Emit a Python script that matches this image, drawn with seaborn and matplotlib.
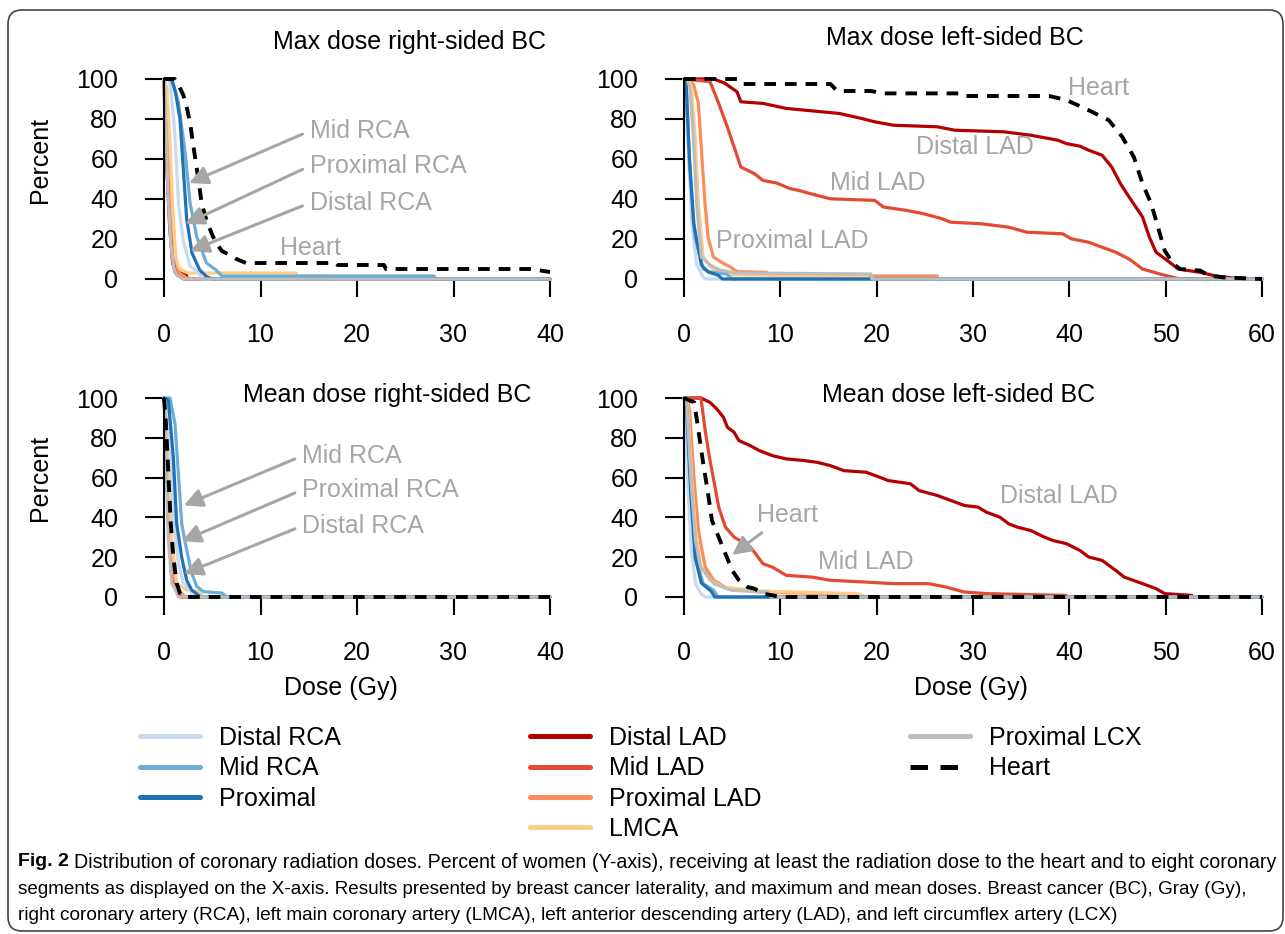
import matplotlib
matplotlib.use('Agg')
import matplotlib.pyplot as plt
from matplotlib.lines import Line2D
from matplotlib.patches import FancyBboxPatch
from matplotlib.transforms import IdentityTransform
import seaborn as sns

# --- data: (dose in Gy, percent of women) per segment ---
series_names = ['Distal LAD', 'Mid LAD', 'Proximal LAD', 'LMCA',
                'Distal RCA', 'Mid RCA', 'Proximal', 'Proximal LCX', 'Heart']

max_right = {
    'Distal LAD': ([0, 0.1, 0.3, 0.6, 0.9, 1.2, 2.3, 2.4, 40], [100, 80, 55, 25, 8, 3, 3, 0, 0]),
    'Mid LAD': ([0, 0.2, 0.4, 0.7, 1.0, 1.4, 2.0, 40], [100, 85, 55, 25, 8, 2, 0, 0]),
    'Proximal LAD': ([0, 0.3, 0.6, 0.9, 1.2, 1.6, 2.5, 40], [100, 88, 60, 30, 10, 3, 0, 0]),
    'LMCA': ([0, 0.3, 0.6, 0.9, 1.2, 1.5, 2.0, 2.5, 13.7, 13.8, 17, 17.1, 40],
             [100, 95, 70, 35, 12, 6, 4, 3, 3, 1.5, 1.5, 0, 0]),
    'Distal RCA': ([0, 0.6, 0.9, 1.14, 1.5, 2.0, 2.7, 3.4, 4.0, 40], [100, 99, 85, 71, 38, 19, 6.5, 4, 0, 0]),
    'Mid RCA': ([0, 0.6, 1.0, 1.5, 2.2, 2.7, 3.4, 4.4, 5.4, 6.0, 28, 28.1, 40],
                [100, 100, 97, 88, 63, 38, 21, 8, 4.5, 1.5, 1.5, 0, 0]),
    'Proximal': ([0, 0.8, 1.2, 1.66, 2.0, 2.35, 2.9, 3.7, 4.4, 5.0, 40],
                 [100, 100, 93, 80, 55, 30, 13, 4.5, 1.2, 0, 0]),
    'Proximal LCX': ([0, 0.2, 0.4, 0.7, 1.0, 1.3, 2.0, 40], [100, 75, 45, 18, 6, 2, 0, 0]),
    'Heart': ([0, 1.1, 1.5, 2.0, 2.4, 2.7, 3.0, 3.4, 3.7, 3.9, 4.3, 4.6, 5.0, 5.4, 6.0, 6.8, 7.5, 8.5,
               17.8, 18.0, 22.8, 23.0, 38, 40],
              [100, 100, 97, 92, 85, 78, 68, 55, 45, 38, 31, 27, 22, 18, 14, 12, 10, 8,
               8, 7, 7, 5, 5, 3.5]),
}

max_left = {
    'Distal LAD': ([0, 3.1, 4.2, 5.5, 5.9, 8.2, 10.6, 14.3, 16.1, 18.4, 19.8, 21.7, 26.3, 28.1, 33.2, 36,
                    38.8, 39.7, 41.1, 42, 43.4, 44.4, 45.3, 46.2, 47.6, 48.3, 49, 50.4, 51.3, 53.6, 55, 56.9, 60],
                   [100, 100, 98, 93.6, 88.6, 87.8, 85.3, 83.6, 82.8, 80.3, 78.6, 76.9, 76.1, 74.4, 73.6, 71.9,
                    69.4, 67.7, 66.4, 64.4, 61.9, 56, 47.7, 41, 31, 21, 13.4, 8.4, 5, 3.3, 1.7, 0.5, 0]),
    'Mid LAD': ([0, 2.7, 3.6, 4.5, 5.2, 5.9, 7.3, 8.2, 9.6, 11, 11.9, 13.8, 15.2, 19.8, 20.7, 23.1, 24.9,
                 26.8, 27.7, 30.9, 33.7, 35.6, 39.3, 40.2, 42, 43.4, 44.8, 46.2, 47.6, 49.4, 50.8, 51.5, 60],
                [100, 98.7, 87.8, 76, 66, 56, 52.7, 49.3, 48, 45.2, 44.3, 41.8, 40.1, 39.3, 36, 34.3, 32.6,
                 30.1, 28.4, 27.6, 25.9, 23.4, 22.6, 20.1, 18.4, 15.9, 13.4, 10, 5, 2.5, 0.8, 0, 0]),
    'Proximal LAD': ([0, 0.5, 1.0, 1.49, 1.83, 2.18, 2.5, 3.05, 4.0, 4.8, 5.5, 8.6, 8.7, 16, 16.1, 26.3, 26.4, 60],
                     [100, 100, 97, 88, 63, 38, 21, 11, 8, 6, 3.7, 3.3, 2, 2, 1.5, 1.5, 0, 0]),
    'LMCA': ([0, 0.5, 0.8, 1.14, 1.49, 2.0, 3.05, 4.1, 5, 19, 19.1, 60],
             [100, 100, 95, 72, 38, 11, 4.5, 3, 2, 1.5, 0, 0]),
    'Distal RCA': ([0, 0.1, 0.45, 0.8, 1.3, 2.0, 2.3, 60], [100, 100, 63, 29, 7.5, 0.8, 0, 0]),
    'Mid RCA': ([0, 0.2, 0.6, 1.14, 2.0, 2.7, 4.4, 5.0, 60], [100, 100, 55, 21, 5, 3.5, 2.5, 0, 0]),
    'Proximal': ([0, 0.2, 0.55, 1.0, 1.8, 2.5, 3.5, 4.0, 60], [100, 100, 62, 28, 7, 3.5, 2, 0, 0]),
    'Proximal LCX': ([0, 0.3, 0.6, 0.97, 1.31, 1.8, 2.7, 3.7, 5.5, 19.4, 19.5, 60],
                     [100, 100, 96, 71, 38, 11, 7, 4.5, 3, 2.5, 0, 0]),
    'Heart': ([0, 5.5, 6.0, 15.2, 15.9, 19.4, 20.7, 28.6, 29.0, 37.9, 39.7, 42, 44.1, 45.5, 46.7, 47.6,
               48.5, 49.2, 49.9, 50.8, 51.5, 53.6, 54.5, 56, 60],
              [100, 100, 97.5, 97.5, 94, 94, 92.8, 92.8, 91.5, 91.5, 89.5, 84.4, 79.4, 71, 61, 47.7,
               37.6, 26, 14.2, 7.5, 5, 4.2, 1.7, 0.8, 0]),
}

mean_right = {
    'Distal LAD': ([0, 0.1, 0.2, 0.45, 0.8, 1.3, 1.8, 40], [100, 100, 79, 37, 10, 3.5, 0, 0]),
    'Mid LAD': ([0, 0.15, 0.3, 0.5, 0.85, 1.3, 2.0, 40], [100, 98, 75, 40, 12, 4, 0, 0]),
    'Proximal LAD': ([0, 0.2, 0.4, 0.6, 0.9, 1.4, 2.2, 40], [100, 97, 72, 42, 14, 4, 0, 0]),
    'LMCA': ([0, 0.3, 0.55, 0.8, 1.3, 2.35, 3.7, 4.0, 40], [100, 95, 62, 29, 7, 3.5, 2.7, 0, 0]),
    'Distal RCA': ([0, 0.35, 0.7, 1.04, 1.49, 2.0, 2.7, 3.0, 40], [100, 98, 70, 37, 17, 7, 3.5, 0, 0]),
    'Mid RCA': ([0, 0.62, 1.14, 1.49, 1.83, 2.35, 2.87, 3.4, 4.1, 6.0, 6.5, 40],
                [100, 100, 87, 62, 37, 23.6, 12, 5.2, 2.7, 2, 0, 0]),
    'Proximal': ([0, 0.45, 0.97, 1.31, 1.83, 2.35, 2.87, 3.4, 3.8, 40], [100, 99, 70, 37, 20, 8.5, 3.5, 1.5, 0, 0]),
    'Proximal LCX': ([0, 0.1, 0.27, 0.45, 0.8, 1.3, 1.5, 40], [100, 95, 62, 29, 7, 2.5, 0, 0]),
    'Heart': ([0, 0.2, 0.45, 0.7, 0.97, 1.31, 1.66, 2.0, 40], [100, 87, 62, 37, 20, 7, 1.8, 0, 0]),
}

mean_left = {
    'Distal LAD': ([0, 1.76, 2.7, 3.4, 4.1, 4.5, 5.2, 5.7, 6.9, 7.8, 9.2, 10.6, 12.4, 13.8, 15.2, 16.6, 18.9,
                    20.3, 21.2, 23.5, 24.4, 26.3, 27.7, 29.1, 30.5, 31.4, 32.8, 33.7, 34.6, 36, 37.4, 38.3,
                    39.7, 41.1, 42, 43.4, 44.8, 45.7, 47.6, 49, 49.9, 52.7, 52.8, 60],
                   [100, 100, 97.8, 94.5, 90.3, 85.3, 82.8, 78.6, 76, 73.6, 71, 69.4, 68.6, 67.7, 66, 63.5, 62.7,
                    60.2, 58.5, 56.9, 53.5, 51, 48.5, 46, 45.2, 42.6, 40.1, 36.8, 35.1, 33.4, 30.1, 28.4,
                    26.8, 23.4, 20.1, 18.4, 13.4, 10, 6.7, 4.2, 1.7, 0.8, 0, 0]),
    'Mid LAD': ([0, 1.76, 2.2, 2.7, 3.1, 3.6, 4.3, 5.2, 6.9, 8.2, 9.2, 10.6, 13.3, 15.2, 18.9, 21.7, 25.4,
                 27.2, 29.1, 31.4, 39.7, 39.8, 60],
                [100, 100, 83.6, 68.6, 58.5, 45.2, 35.1, 30.1, 25.1, 16.7, 15, 10.9, 10, 8.4, 7.5, 6.7, 6.7,
                 5, 2.5, 1.7, 0.8, 0, 0]),
    'Proximal LAD': ([0, 0.4, 0.6, 1.06, 1.5, 2.2, 3.1, 4.5, 7.8, 14.7, 17.5, 18, 60],
                     [100, 100, 92, 58.5, 33.4, 15, 8.4, 4.2, 2.5, 1.7, 0.8, 0, 0]),
    'LMCA': ([0, 0.35, 0.83, 1.2, 1.76, 2.7, 4.1, 7.8, 18, 19, 60], [100, 98, 58, 33, 15, 8.4, 5, 3, 1.7, 0, 0]),
    'Distal RCA': ([0, 0.1, 0.37, 0.74, 1.2, 1.76, 2.2, 60], [100, 98, 58, 25, 6.7, 1.7, 0, 0]),
    'Mid RCA': ([0, 0.3, 0.83, 1.3, 2.0, 3.1, 3.5, 60], [100, 96, 50, 18, 6.7, 3.3, 0, 0]),
    'Proximal': ([0, 0.25, 0.7, 1.15, 1.8, 2.8, 3.2, 60], [100, 96, 52, 20, 7, 3, 0, 0]),
    'Proximal LCX': ([0, 0.3, 0.74, 1.2, 1.76, 3.1, 5.0, 8.7, 9, 60], [100, 96, 58, 28, 15, 6.7, 3.3, 2.5, 0, 0]),
    'Heart': ([0, 1.06, 1.5, 2.0, 2.45, 2.9, 3.6, 4.3, 5.0, 5.7, 6.6, 7.3, 8.2, 9.2, 10, 60],
              [100, 97.8, 83.6, 66.9, 53.5, 38.5, 30.1, 21.7, 13.4, 8.4, 5, 4.2, 1.7, 0.8, 0, 0]),
}

colors = {
    'Distal RCA': '#c6dbef', 'Mid RCA': '#6baed6', 'Proximal': '#2171b5',
    'Distal LAD': '#b30000', 'Mid LAD': '#e34a33', 'Proximal LAD': '#fc8d59',
    'LMCA': '#fdcc8a', 'Proximal LCX': '#bdbdbd', 'Heart': 'black',
}
heart_dash = (0, (3, 2.3))
grey_txt = '#a6a6a6'

caption_lines = [
    'Distribution of coronary radiation doses. Percent of women (Y-axis), receiving at least '
    'the radiation dose to the heart and to eight coronary',
    'segments as displayed on the X-axis. Results presented by breast cancer laterality, and '
    'maximum and mean doses. Breast cancer (BC), Gray (Gy),',
    'right coronary artery (RCA), left main coronary artery (LMCA), left anterior descending '
    'artery (LAD), and left circumflex artery (LCX)',
]

# --- figure setup (pixel layout of the original) ---
sns.set_style('white')
plt.rcParams['font.family'] = ['Liberation Sans', 'DejaVu Sans']
plt.rcParams['text.color'] = 'black'
plt.rcParams['xtick.color'] = 'black'
plt.rcParams['ytick.color'] = 'black'

W, H = 1285, 934
fig = plt.figure(figsize=(W / 100, H / 100), dpi=100)


def fx(px):
    return px / W


def fy(py):
    return 1 - py / H


def make_axes(left, right, top, bottom):
    return fig.add_axes([fx(left), fy(bottom), (right - left) / W, (bottom - top) / H])


def draw_panel(ax, data, xmax):
    for name in series_names:
        xs, ys = data[name]
        if name == 'Heart':
            sns.lineplot(x=xs, y=ys, ax=ax, color='black', lw=2.8, linestyle=heart_dash,
                         estimator=None, sort=False, clip_on=False, zorder=5)
        else:
            sns.lineplot(x=xs, y=ys, ax=ax, color=colors[name], lw=2.3,
                         estimator=None, sort=False, clip_on=False)
    ax.set_xlim(0, xmax)
    ax.set_ylim(0, 100)
    ax.set_xticks(range(0, xmax + 1, 10))
    ax.set_yticks(range(0, 101, 20))
    for s in ['top', 'right', 'bottom']:
        ax.spines[s].set_visible(False)
    ax.spines['left'].set_color('black')
    ax.spines['left'].set_linewidth(1.5)
    ax.tick_params(axis='x', direction='out', length=13, width=1.5, pad=19, labelsize=18, bottom=True)
    ax.tick_params(axis='y', direction='out', length=14, width=1.5, pad=19, labelsize=18, left=True)
    ax.set_xlabel('')
    ax.set_ylabel('')
    ax.patch.set_alpha(0)


def label_arrow(ax, text, xy_text, xy_tip, relpos=(0, 0.5)):
    ax.annotate(text, xy=xy_tip, xytext=xy_text, color=grey_txt, fontsize=18,
                ha='left', va='center', annotation_clip=False, zorder=6,
                arrowprops=dict(arrowstyle='-|>', color=grey_txt, lw=2.2, mutation_scale=28,
                                shrinkA=3, shrinkB=0, relpos=relpos))


ax_tl = make_axes(164, 550, 79, 279)
ax_tr = make_axes(684, 1262, 79, 279)
ax_bl = make_axes(164, 550, 398, 597)
ax_br = make_axes(684, 1262, 398, 597)

draw_panel(ax_tl, max_right, 40)
draw_panel(ax_tr, max_left, 60)
draw_panel(ax_bl, mean_right, 40)
draw_panel(ax_br, mean_left, 60)

# annotations
label_arrow(ax_tl, 'Mid RCA', (15.1, 74), (2.6, 48))
label_arrow(ax_tl, 'Proximal RCA', (15.1, 56.5), (2.2, 27.5))
label_arrow(ax_tl, 'Distal RCA', (15.1, 38), (2.7, 14))
ax_tl.text(12.0, 15.5, 'Heart', color=grey_txt, fontsize=18, va='center')

ax_tr.text(39.9, 95.5, 'Heart', color=grey_txt, fontsize=18, va='center')
ax_tr.text(24.1, 66, 'Distal LAD', color=grey_txt, fontsize=18, va='center')
ax_tr.text(15.2, 48, 'Mid LAD', color=grey_txt, fontsize=18, va='center')
ax_tr.text(3.3, 19, 'Proximal LAD', color=grey_txt, fontsize=18, va='center')

label_arrow(ax_bl, 'Mid RCA', (14.3, 70.9), (2.05, 46))
label_arrow(ax_bl, 'Proximal RCA', (14.3, 53.8), (1.85, 28))
label_arrow(ax_bl, 'Distal RCA', (14.3, 35.7), (2.05, 11.6))

label_arrow(ax_br, 'Heart', (7.6, 41.2), (5.0, 21.1), relpos=(0.2, 0))
ax_br.text(13.9, 17.6, 'Mid LAD', color=grey_txt, fontsize=18, va='center')
ax_br.text(32.8, 50.8, 'Distal LAD', color=grey_txt, fontsize=18, va='center')

# titles and axis labels
fig.text(fx(410), fy(42), 'Max dose right-sided BC', ha='center', va='center', fontsize=18)
fig.text(fx(955), fy(38), 'Max dose left-sided BC', ha='center', va='center', fontsize=18)
fig.text(fx(387), fy(395), 'Mean dose right-sided BC', ha='center', va='center', fontsize=18)
fig.text(fx(959), fy(395), 'Mean dose left-sided BC', ha='center', va='center', fontsize=18)
fig.text(fx(40), fy(160), 'Percent', rotation=90, ha='center', va='center', fontsize=18)
fig.text(fx(40), fy(478), 'Percent', rotation=90, ha='center', va='center', fontsize=18)
fig.text(fx(341), fy(688), 'Dose (Gy)', ha='center', va='center', fontsize=18)
fig.text(fx(971), fy(688), 'Dose (Gy)', ha='center', va='center', fontsize=18)

# legend, three columns
legend_cols = [
    (['Distal RCA', 'Mid RCA', 'Proximal'], 140),
    (['Distal LAD', 'Mid LAD', 'Proximal LAD', 'LMCA'], 530),
    (['Proximal LCX', 'Heart'], 910),
]
for names, x0 in legend_cols:
    handles = []
    for n in names:
        if n == 'Heart':
            handles.append(Line2D([], [], color='black', lw=3.6, linestyle=(0, (3.5, 2.5))))
        else:
            handles.append(Line2D([], [], color=colors[n], lw=3.6, solid_capstyle='round'))
    fig.legend(handles, names, loc='upper left', bbox_to_anchor=(fx(x0), fy(726)),
               frameon=False, borderpad=0, borderaxespad=0, handlelength=2.4,
               handletextpad=0.75, labelspacing=0.25, fontsize=18)

# caption (sizes per line to fill the same width as the condensed original)
fig.text(fx(18), fy(862), 'Fig. 2', fontsize=14, weight='bold', va='center')
fig.text(fx(74), fy(862), caption_lines[0], fontsize=14.1, va='center')
fig.text(fx(18), fy(889), caption_lines[1], fontsize=13.6, va='center')
fig.text(fx(18), fy(915), caption_lines[2], fontsize=13.7, va='center')

# rounded frame around the whole figure
frame = FancyBboxPatch((8, H - 931), 1275, 921, boxstyle='round,pad=0,rounding_size=14',
                       transform=IdentityTransform(), fill=False, ec='#444444', lw=1.2)
fig.patches.append(frame)

fig.savefig('out.png', dpi=100)
